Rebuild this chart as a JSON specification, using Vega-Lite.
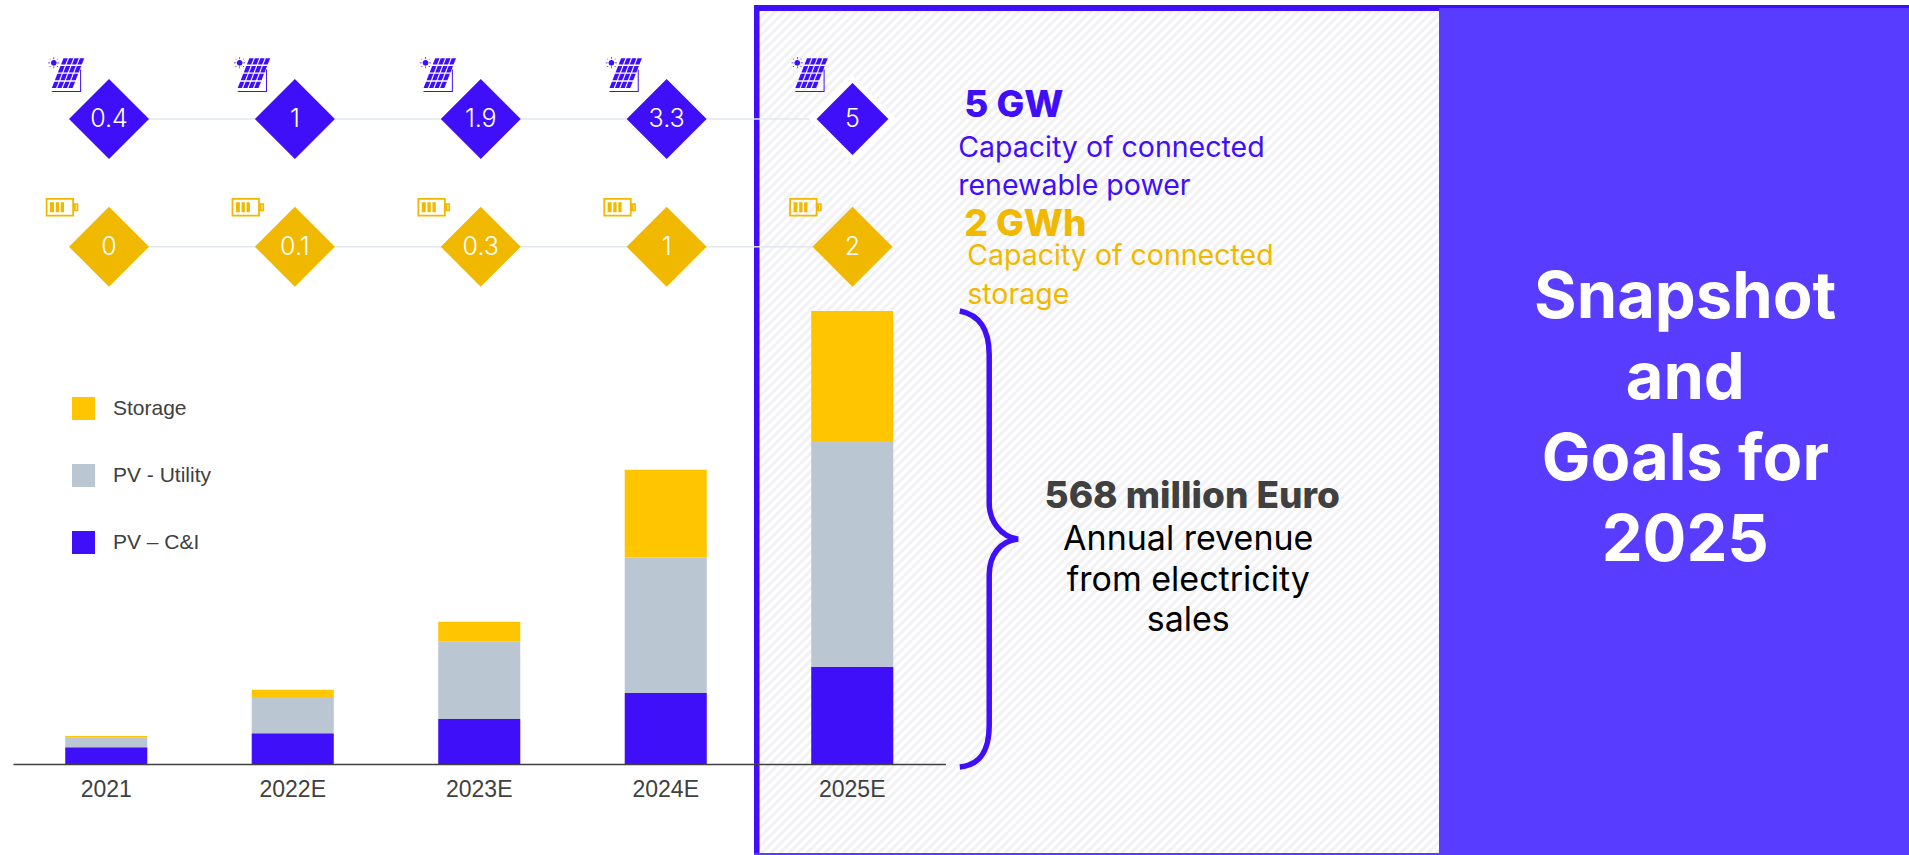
{"$schema":"https://vega.github.io/schema/vega-lite/v6.json","width":1909,"height":855,"autosize":{"type":"fit","contains":"padding"},"padding":0,"background":"#ffffff","config":{"view":{"stroke":null}},
"datasets":{"capacity":[
{"year":"2021","metric":"Connected renewable power (GW)","value":0.4},{"year":"2022E","metric":"Connected renewable power (GW)","value":1},{"year":"2023E","metric":"Connected renewable power (GW)","value":1.9},{"year":"2024E","metric":"Connected renewable power (GW)","value":3.3},{"year":"2025E","metric":"Connected renewable power (GW)","value":5},
{"year":"2021","metric":"Connected storage (GWh)","value":0},{"year":"2022E","metric":"Connected storage (GWh)","value":0.1},{"year":"2023E","metric":"Connected storage (GWh)","value":0.3},{"year":"2024E","metric":"Connected storage (GWh)","value":1},{"year":"2025E","metric":"Connected storage (GWh)","value":2}],
"revenue":[
{"year":"2021","segment":"PV – C&I","rank":1,"revenue":21},{"year":"2021","segment":"PV - Utility","rank":2,"revenue":12.5},{"year":"2021","segment":"Storage","rank":3,"revenue":1.5},
{"year":"2022E","segment":"PV – C&I","rank":1,"revenue":38.5},{"year":"2022E","segment":"PV - Utility","rank":2,"revenue":45.5},{"year":"2022E","segment":"Storage","rank":3,"revenue":9},
{"year":"2023E","segment":"PV – C&I","rank":1,"revenue":56.5},{"year":"2023E","segment":"PV - Utility","rank":2,"revenue":97},{"year":"2023E","segment":"Storage","rank":3,"revenue":25},
{"year":"2024E","segment":"PV – C&I","rank":1,"revenue":89},{"year":"2024E","segment":"PV - Utility","rank":2,"revenue":170},{"year":"2024E","segment":"Storage","rank":3,"revenue":110},
{"year":"2025E","segment":"PV – C&I","rank":1,"revenue":122},{"year":"2025E","segment":"PV - Utility","rank":2,"revenue":283},{"year":"2025E","segment":"Storage","rank":3,"revenue":163}]},
"resolve":{"scale":{"x":"independent","y":"independent","color":"independent"}},
"layer":[
{"data":{"values":[{}]},"mark":{"type":"point","clip":true,"filled":false,"size":4,"stroke":"#f2f2f4","strokeWidth":3.2,"opacity":1,"shape":"M0 0l-855 855m864-855l-855 855m864-855l-855 855m864-855l-855 855m864-855l-855 855m864-855l-855 855m864-855l-855 855m864-855l-855 855m864-855l-855 855m864-855l-855 855m864-855l-855 855m864-855l-855 855m864-855l-855 855m864-855l-855 855m864-855l-855 855m864-855l-855 855m864-855l-855 855m864-855l-855 855m864-855l-855 855m864-855l-855 855m864-855l-855 855m864-855l-855 855m864-855l-855 855m864-855l-855 855m864-855l-855 855m864-855l-855 855m864-855l-855 855m864-855l-855 855m864-855l-855 855m864-855l-855 855m864-855l-855 855m864-855l-855 855m864-855l-855 855m864-855l-855 855m864-855l-855 855m864-855l-855 855m864-855l-855 855m864-855l-855 855m864-855l-855 855m864-855l-855 855m864-855l-855 855m864-855l-855 855m864-855l-855 855m864-855l-855 855m864-855l-855 855m864-855l-855 855m864-855l-855 855m864-855l-855 855m864-855l-855 855m864-855l-855 855m864-855l-855 855m864-855l-855 855m864-855l-855 855m864-855l-855 855m864-855l-855 855m864-855l-855 855m864-855l-855 855m864-855l-855 855m864-855l-855 855m864-855l-855 855m864-855l-855 855m864-855l-855 855m864-855l-855 855m864-855l-855 855m864-855l-855 855m864-855l-855 855m864-855l-855 855m864-855l-855 855m864-855l-855 855m864-855l-855 855m864-855l-855 855m864-855l-855 855m864-855l-855 855m864-855l-855 855m864-855l-855 855m864-855l-855 855m864-855l-855 855m864-855l-855 855m864-855l-855 855m864-855l-855 855m864-855l-855 855m864-855l-855 855m864-855l-855 855m864-855l-855 855m864-855l-855 855m864-855l-855 855m864-855l-855 855m864-855l-855 855m864-855l-855 855m864-855l-855 855m864-855l-855 855m864-855l-855 855m864-855l-855 855m864-855l-855 855m864-855l-855 855m864-855l-855 855m864-855l-855 855m864-855l-855 855m864-855l-855 855m864-855l-855 855m864-855l-855 855m864-855l-855 855m864-855l-855 855m864-855l-855 855m864-855l-855 855m864-855l-855 855m864-855l-855 855m864-855l-855 855m864-855l-855 855m864-855l-855 855m864-855l-855 855m864-855l-855 855m864-855l-855 855m864-855l-855 855m864-855l-855 855m864-855l-855 855m864-855l-855 855m864-855l-855 855m864-855l-855 855m864-855l-855 855m864-855l-855 855m864-855l-855 855m864-855l-855 855m864-855l-855 855m864-855l-855 855m864-855l-855 855m864-855l-855 855m864-855l-855 855m864-855l-855 855m864-855l-855 855m864-855l-855 855m864-855l-855 855m864-855l-855 855m864-855l-855 855m864-855l-855 855m864-855l-855 855m864-855l-855 855m864-855l-855 855m864-855l-855 855m864-855l-855 855m864-855l-855 855m864-855l-855 855m864-855l-855 855m864-855l-855 855m864-855l-855 855m864-855l-855 855m864-855l-855 855m864-855l-855 855m864-855l-855 855m864-855l-855 855m864-855l-855 855m864-855l-855 855m864-855l-855 855m864-855l-855 855m864-855l-855 855m864-855l-855 855m864-855l-855 855m864-855l-855 855m864-855l-855 855m864-855l-855 855m864-855l-855 855m864-855l-855 855m864-855l-855 855m864-855l-855 855m864-855l-855 855m864-855l-855 855m864-855l-855 855m864-855l-855 855m864-855l-855 855m864-855l-855 855m864-855l-855 855"},"encoding":{"x":{"value":760},"y":{"value":0}}},
{"data":{"values":[{}]},"mark":{"type":"rect","fill":"#ffffff"},"encoding":{"x":{"value":0},"x2":{"value":754},"y":{"value":0},"y2":{"value":855}}},
{"data":{"values":[{}]},"mark":{"type":"rect","fill":"#ffffff"},"encoding":{"x":{"value":754},"x2":{"value":1909},"y":{"value":0},"y2":{"value":5}}},
{"data":{"values":[{}]},"mark":{"type":"rect","fill":"#3f0ffa"},"encoding":{"x":{"value":754},"x2":{"value":1909},"y":{"value":5},"y2":{"value":11}}},
{"data":{"values":[{}]},"mark":{"type":"rect","fill":"#3f0ffa"},"encoding":{"x":{"value":754},"x2":{"value":759.5},"y":{"value":5},"y2":{"value":855}}},
{"data":{"values":[{}]},"mark":{"type":"rect","fill":"#5a3dff"},"encoding":{"x":{"value":754},"x2":{"value":1439},"y":{"value":853},"y2":{"value":855}}},
{"data":{"values":[{}]},"mark":{"type":"rect","fill":"#583cff"},"encoding":{"x":{"value":1439},"x2":{"value":1909},"y":{"value":8},"y2":{"value":855}}},
{"data":{"name":"revenue"},"mark":{"type":"bar"},"encoding":{
"x":{"field":"year","type":"nominal","scale":{"type":"band","domain":["2021","2022E","2023E","2024E","2025E"],"range":[13,945.5],"paddingInner":0.56,"paddingOuter":0.28},"axis":{"title":null,"offset":-91,"zindex":1,"ticks":false,"grid":false,"labelAngle":0,"domainColor":"#404040","domainWidth":1.5,"labelColor":"#404040","labelFont":"Liberation Sans","labelFontSize":23,"labelPadding":14}},
"y":{"field":"revenue","type":"quantitative","stack":"zero","scale":{"domain":[0,568],"range":[764,311],"nice":false},"axis":null},
"color":{"field":"segment","type":"nominal","scale":{"domain":["Storage","PV - Utility","PV – C&I"],"range":["#ffc600","#bac7d3","#3f0ffa"]},"legend":{"title":null,"orient":"none","legendX":72,"legendY":397,"symbolType":"square","symbolSize":529,"symbolStrokeWidth":0,"symbolOpacity":1,"labelFont":"Liberation Sans","labelFontSize":21,"labelColor":"#404040","labelOffset":18,"rowPadding":44}},
"order":{"field":"rank"}}},
{"data":{"values":[{}]},
"encoding":{"x":{"datum":"2025E","scale":{"type":"band","domain":["2021","2022E","2023E","2024E","2025E"],"range":[13,945.5],"paddingInner":0.56,"paddingOuter":0.28},"axis":null},"y":{"datum":568,"type":"quantitative","scale":{"domain":[0,568],"range":[764,311],"nice":false},"axis":null}},
"layer":[
{"mark":{"type":"point","filled":false,"stroke":"#3f0ffa","strokeWidth":5.5,"size":207936,"opacity":1,"xOffset":136.5,"yOffset":228,"shape":"M-0.127 -1C-0.037 -0.982 0.002 -0.917 0.002 -0.807L0.002 -0.158C0.002 -0.083 0.05 -0.009 0.129 0C0.05 0.009 0.002 0.07 0.002 0.158L0.002 0.816C0.002 0.93 -0.037 0.991 -0.127 1"}},
{"mark":{"type":"text","text":"5 GW","align":"left","baseline":"alphabetic","dx":112,"dy":-194,"font":"Inter","fontSize":37,"fontWeight":800,"fill":"#3f0ffa"}},
{"mark":{"type":"text","text":["Capacity of connected","renewable power"],"lineHeight":38,"align":"left","baseline":"alphabetic","dx":106,"dy":-154,"font":"Inter","fontSize":28.5,"fontWeight":400,"fill":"#3f0ffa"}},
{"mark":{"type":"text","text":"2 GWh","align":"left","baseline":"alphabetic","dx":112,"dy":-75,"font":"Inter","fontSize":37,"fontWeight":800,"fill":"#f0b900"}},
{"mark":{"type":"text","text":["Capacity of connected","storage"],"lineHeight":39,"align":"left","baseline":"alphabetic","dx":115,"dy":-46,"font":"Inter","fontSize":28.5,"fontWeight":400,"fill":"#f0b900"}},
{"mark":{"type":"text","text":"568 million Euro","align":"center","baseline":"alphabetic","dx":340,"dy":197,"font":"Inter","fontSize":37,"fontWeight":800,"fill":"#404040"}},
{"mark":{"type":"text","text":["Annual revenue","from electricity","sales"],"lineHeight":40.5,"align":"center","baseline":"alphabetic","dx":336,"dy":239,"font":"Inter","fontSize":34,"fontWeight":400,"fill":"#000000"}},
{"mark":{"type":"text","text":["Snapshot","and","Goals for","2025"],"lineHeight":81,"align":"center","baseline":"alphabetic","dx":833,"dy":7,"font":"Inter","fontSize":65,"fontWeight":700,"fill":"#ffffff"}}
]},
{"data":{"name":"capacity"},
"encoding":{
"x":{"field":"year","type":"nominal","scale":{"type":"point","domain":["2021","2022E","2023E","2024E","2025E"],"range":[109,852.5],"padding":0},"axis":null},
"y":{"field":"metric","type":"nominal","scale":{"type":"point","domain":["Connected renewable power (GW)","Connected storage (GWh)"],"range":[119,246.7],"padding":0},"axis":null}},
"layer":[
{"mark":{"type":"line","stroke":"#e2e8ee","strokeWidth":1.5},"encoding":{"detail":{"field":"metric"}}},
{"transform":[{"filter":"datum.metric === 'Connected renewable power (GW)'"}],"mark":{"type":"point","filled":true,"size":4,"opacity":1,"fill":"#3f0ffa","xOffset":-42.5,"yOffset":-44.5,"shape":"M-3 -16.3l4.3 0l-2.5 6.4l-4.3 0zM2.5 -16.3l4.3 0l-2.5 6.4l-4.3 0zM8 -16.3l4.3 0l-2.5 6.4l-4.3 0zM13.5 -16.3l4.3 0l-2.5 6.4l-4.3 0zM-6.1 -8.5l4.3 0l-2.5 6.4l-4.3 0zM-0.6 -8.5l4.3 0l-2.5 6.4l-4.3 0zM4.9 -8.5l4.3 0l-2.5 6.4l-4.3 0zM10.4 -8.5l4.3 0l-2.5 6.4l-4.3 0zM-9.15 -0.65l4.3 0l-2.5 6.4l-4.3 0zM-3.65 -0.65l4.3 0l-2.5 6.4l-4.3 0zM1.85 -0.65l4.3 0l-2.5 6.4l-4.3 0zM7.35 -0.65l4.3 0l-2.5 6.4l-4.3 0zM-12.2 7.2l4.3 0l-2.5 6.4l-4.3 0zM-6.7 7.2l4.3 0l-2.5 6.4l-4.3 0zM-1.2 7.2l4.3 0l-2.5 6.4l-4.3 0zM4.3 7.2l4.3 0l-2.5 6.4l-4.3 0zM13.6 -5h1v22.5h-1zM-14.7 16.5h29v1h-29zM-15.7 -11.7l0.9 -2.1l2.1 -0.9l2.1 0.9l0.9 2.1l-0.9 2.1l-2.1 0.9l-2.1 -0.9zM-13 -17.5h0.7v2h-0.7zM-13 -8.2h0.7v2h-0.7zM-18.5 -12h2v0.7h-2zM-9.2 -12h2v0.7h-2zM-16.8 -15.8h0.8v0.8h-0.8zM-9.4 -15.8h0.8v0.8h-0.8zM-16.8 -8.4h0.8v0.8h-0.8zM-9.4 -8.4h0.8v0.8h-0.8z"}},
{"transform":[{"filter":"datum.metric === 'Connected storage (GWh)'"}],"mark":{"type":"point","filled":true,"size":4,"opacity":1,"fill":"#f0b900","xOffset":-47,"yOffset":-39.5,"shape":"M-16.3 -9.3H12V9.3H-16.3ZM-14.5 -7.5V7.5H10.2V-7.5ZM12 -4H16.3V4H12ZM13.8 -2.4V2.4H14.6V-2.4ZM-12 -5H-8V5H-12ZM-6.3 -5H-3V5H-6.3ZM-1.3 -5H2V5H-1.3Z"}},
{"mark":{"type":"point","shape":"diamond","filled":true,"opacity":1},"encoding":{
"fill":{"field":"metric","type":"nominal","scale":{"domain":["Connected renewable power (GW)","Connected storage (GWh)"],"range":["#3f0ffa","#f0b900"]},"legend":null},
"size":{"condition":{"test":"datum.value === 5","value":6336},"value":6400},
"stroke":{"condition":{"test":"datum.value === 5","value":"#ffffff"},"value":null},
"strokeWidth":{"condition":{"test":"datum.value === 5","value":5.4},"value":0}}},
{"mark":{"type":"text","font":"Inter","fontSize":25,"fontWeight":300,"fill":"#ffffff","baseline":"middle","align":"center"},"encoding":{"text":{"field":"value","type":"nominal"}}}
]}
]}
